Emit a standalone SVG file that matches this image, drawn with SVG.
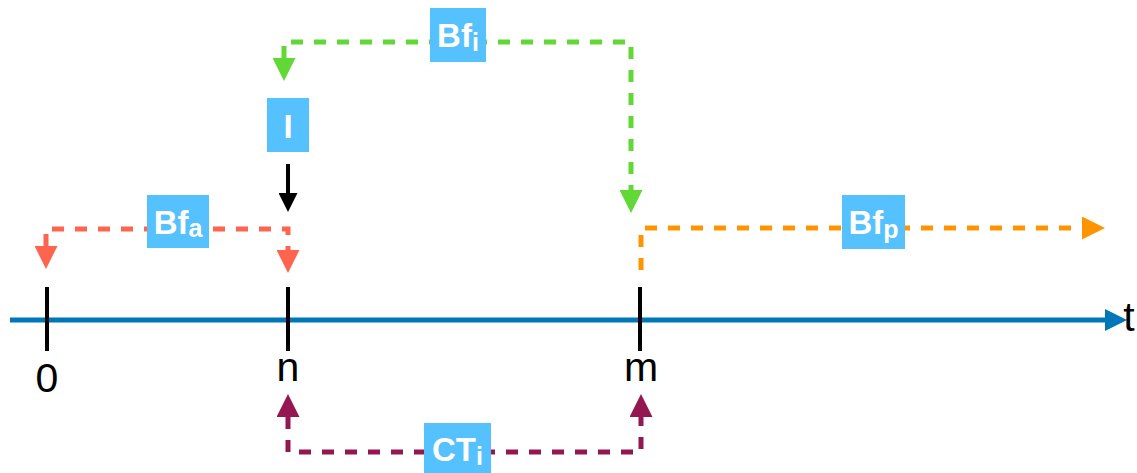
<svg xmlns="http://www.w3.org/2000/svg" width="1137" height="473" viewBox="0 0 1137 473">
  <style>
    .lbl { fill: #56C1FF; }
    .lbltxt { font-family: "Liberation Sans", Arial, Helvetica, sans-serif; font-weight: bold; font-size: 33px; fill: #FFFFFF; text-anchor: middle; }
    .sub { font-size: 25px; }
    .tick { stroke: #000000; stroke-width: 4; }
    .ticktxt { font-family: "Liberation Sans", Arial, Helvetica, sans-serif; font-size: 41px; fill: #000000; text-anchor: middle; }
    .dash { fill: none; stroke-width: 5; stroke-dasharray: 12 11; }
  </style>
  <defs>
    <marker id="head-green" markerUnits="userSpaceOnUse" viewBox="0 0 23 23" markerWidth="23" markerHeight="23" refX="0" refY="11.5" orient="auto-start-reverse">
      <path d="M0,0 L23,11.5 L0,23 Z" fill="#61D836"/>
    </marker>
    <marker id="head-red" markerUnits="userSpaceOnUse" viewBox="0 0 23 23" markerWidth="23" markerHeight="23" refX="0" refY="11.5" orient="auto-start-reverse">
      <path d="M0,0 L23,11.5 L0,23 Z" fill="#FF644E"/>
    </marker>
    <marker id="head-orange" markerUnits="userSpaceOnUse" viewBox="0 0 23 23" markerWidth="23" markerHeight="23" refX="0" refY="11.5" orient="auto-start-reverse">
      <path d="M0,0 L23,11.5 L0,23 Z" fill="#FF9300"/>
    </marker>
    <marker id="head-purple" markerUnits="userSpaceOnUse" viewBox="0 0 23 23" markerWidth="23" markerHeight="23" refX="0" refY="11.5" orient="auto-start-reverse">
      <path d="M0,0 L23,11.5 L0,23 Z" fill="#941751"/>
    </marker>
    <marker id="head-black" markerUnits="userSpaceOnUse" viewBox="0 0 19 19" markerWidth="19" markerHeight="19" refX="0" refY="9.5" orient="auto">
      <path d="M0,0 L19,9.5 L0,19 Z" fill="#000000"/>
    </marker>
    <marker id="head-blue" markerUnits="userSpaceOnUse" viewBox="0 0 22 22" markerWidth="22" markerHeight="22" refX="0" refY="11" orient="auto">
      <path d="M0,0 L22,11 L0,22 Z" fill="#0076BA"/>
    </marker>
  </defs>

  <!-- time axis -->
  <g id="axis">
    <line x1="10" y1="320" x2="1105" y2="320" stroke="#0076BA" stroke-width="5" marker-end="url(#head-blue)"/>
    <text class="ticktxt" x="1129" y="331" text-anchor="start">t</text>
  </g>

  <!-- connectors -->
  <g id="connectors">
    <path id="conn-bfi" class="dash" stroke="#61D836" d="M284,58 V42 H631 V190" marker-start="url(#head-green)" marker-end="url(#head-green)"/>
    <path id="conn-bfa" class="dash" stroke="#FF644E" d="M46,246 V229 H288 V250" marker-start="url(#head-red)" marker-end="url(#head-red)"/>
    <path id="conn-bfp" class="dash" stroke="#FF9300" d="M641,270 V228 H1082" marker-end="url(#head-orange)"/>
    <path id="conn-cti" class="dash" stroke="#941751" d="M288,417 V452 H641 V417" marker-start="url(#head-purple)" marker-end="url(#head-purple)"/>
    <line id="conn-i" x1="288" y1="164" x2="288" y2="193" stroke="#000000" stroke-width="4" marker-end="url(#head-black)"/>
  </g>

  <!-- time points -->
  <g id="point-0">
    <line class="tick" x1="47" y1="287" x2="47" y2="351"/>
    <text class="ticktxt" x="47" y="392">0</text>
  </g>
  <g id="point-n">
    <line class="tick" x1="288" y1="287" x2="288" y2="351"/>
    <text class="ticktxt" x="288" y="381">n</text>
  </g>
  <g id="point-m">
    <line class="tick" x1="640" y1="287" x2="640" y2="351"/>
    <text class="ticktxt" x="641" y="381">m</text>
  </g>

  <!-- labels -->
  <g id="label-bfi">
    <rect class="lbl" x="430" y="8" width="56" height="54"/>
    <text class="lbltxt" x="458" y="47">Bf<tspan class="sub" dy="4">i</tspan></text>
  </g>
  <g id="label-i">
    <rect class="lbl" x="267" y="98" width="42" height="54"/>
    <text class="lbltxt" x="288" y="138">I</text>
  </g>
  <g id="label-bfa">
    <rect class="lbl" x="147" y="195" width="62" height="53"/>
    <text class="lbltxt" x="178" y="234">Bf<tspan class="sub" dy="3">a</tspan></text>
  </g>
  <g id="label-bfp">
    <rect class="lbl" x="842" y="195" width="63" height="54"/>
    <text class="lbltxt" x="873.5" y="234">Bf<tspan class="sub" dy="4">p</tspan></text>
  </g>
  <g id="label-cti">
    <rect class="lbl" x="424" y="423" width="67" height="54"/>
    <text class="lbltxt" x="457.5" y="461">CT<tspan class="sub" dy="4">i</tspan></text>
  </g>
</svg>
